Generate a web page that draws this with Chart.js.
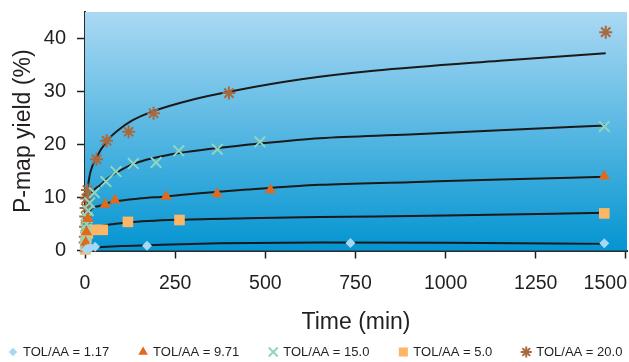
<!DOCTYPE html>
<html>
<head>
<meta charset="utf-8">
<script src="https://cdn.jsdelivr.net/npm/chart.js@4/dist/chart.umd.min.js"></script>
<style>
  html, body { margin: 0; padding: 0; background: #fff; }
  #wrap { width: 629px; height: 362px; }
</style>
</head>
<body>
<div id="wrap"><canvas id="yieldChart" width="629" height="362"></canvas></div>
<script>
// tick labels
const xTicks = [0, 250, 500, 750, 1000, 1250, 1500];
const yTicks = [0, 10, 20, 30, 40];

// measured points, time (min) / P-map yield (%)
const t117 = [2, 8, 15, 28, 172, 736, 1440];
const y117 = [0.2, 0.4, 0.5, 0.7, 0.9, 1.4, 1.35];

const t971 = [1, 2, 4, 8, 56, 83, 225, 366, 514, 1440];
const y971 = [0.4, 1.5, 3.5, 6, 8.7, 9.5, 10.2, 10.7, 11.4, 14.0];

const t150 = [0.5, 1, 2, 3, 4, 6, 9, 13, 26, 58, 86, 134, 197, 260, 367, 485, 1440];
const y150 = [0.5, 1.5, 2.8, 4, 5, 6.2, 7.5, 9, 10.9, 13.0, 14.9, 16.4, 16.6, 18.8, 19.1, 20.5, 23.4];

const t50 = [1, 2, 4, 8, 24, 49, 119, 262, 1440];
const y50 = [0.2, 1.2, 2.4, 3.2, 3.9, 3.9, 5.4, 5.75, 7.0];

const t200 = [0.5, 1, 1.5, 2, 3, 4, 7, 32, 60, 121, 190, 399, 1444];
const y200 = [1.5, 2.6, 4.5, 6.4, 8, 9.8, 11.4, 17.2, 20.7, 22.4, 25.9, 29.7, 41.2];

// fitted curves
const fitT200 = [2, 7, 15, 32, 60, 90, 130, 190, 300, 410, 600, 800, 1150, 1444];
const fitY200 = [9.5, 11.7, 14.8, 17.6, 20.6, 22.6, 24.5, 26.3, 28.5, 30.1, 32.3, 33.9, 35.8, 37.2];

const fitT150 = [5, 17, 40, 67, 90, 132, 200, 262, 350, 485, 651, 900, 1151, 1444];
const fitY150 = [8.5, 10.8, 12.2, 13.8, 14.8, 16.3, 17.6, 18.4, 19.2, 20.2, 21.2, 21.9, 22.7, 23.6];

const fitT971 = [5, 17, 40, 60, 86, 150, 225, 318, 450, 651, 900, 1151, 1444];
const fitY971 = [6.3, 7.8, 8.4, 8.9, 9.3, 9.8, 10.2, 10.8, 11.5, 12.4, 12.9, 13.4, 13.9];

const fitT50 = [8, 17, 40, 80, 119, 262, 450, 651, 1000, 1444];
const fitY50 = [3.4, 3.9, 4.5, 5.0, 5.3, 5.8, 6.1, 6.3, 6.6, 7.1];

const fitT117 = [12, 21, 40, 100, 172, 373, 651, 1000, 1444];
const fitY117 = [0.3, 0.4, 0.6, 0.85, 1.0, 1.35, 1.5, 1.45, 1.25];

const FONT = '"Liberation Sans", Arial, sans-serif';
const pts = (xs, ys) => xs.map((x, i) => ({ x: x, y: ys[i] }));

function markers(label, xs, ys, style, color, radius, lineW) {
    return {
        label: label,
        data: pts(xs, ys),
        pointStyle: style,
        pointRadius: radius,
        pointHoverRadius: radius,
        backgroundColor: color,
        borderColor: color,
        borderWidth: lineW,
        showLine: false,
        clip: false
    };
}

function curve(xs, ys) {
    return {
        label: 'fit',
        data: pts(xs, ys),
        showLine: true,
        borderColor: '#1a1a1a',
        borderWidth: 2,
        pointRadius: 0,
        cubicInterpolationMode: 'monotone',
        fill: false
    };
}

const plotBackground = {
    id: 'plotBackground',
    beforeDatasetsDraw(chart) {
        const { ctx, chartArea: a } = chart;
        const g = ctx.createLinearGradient(0, a.top, 0, a.bottom);
        g.addColorStop(0, '#aad9f3');
        g.addColorStop(1, '#0495d2');
        ctx.save();
        ctx.fillStyle = g;
        ctx.fillRect(a.left, a.top, a.right - a.left, a.bottom - a.top);
        ctx.restore();
    }
};

// last x label sits flush with the right edge instead of being cut off
const lastLabelInside = {
    id: 'lastLabelInside',
    beforeDraw(chart) {
        const items = chart.scales.x.getLabelItems();
        const last = items[items.length - 1];
        if (!last) return;
        last.options.textAlign = 'right';
        last.options.translation = [chart.width - 2, last.options.translation[1]];
    }
};

// one row legend along the bottom, wider gaps than the built-in one allows
const bottomLegend = {
    id: 'bottomLegend',
    afterDraw(chart) {
        const ctx = chart.ctx;
        const y = 352;
        let x = 8;
        ctx.save();
        ctx.font = '13px ' + FONT;
        ctx.textBaseline = 'middle';
        chart.data.datasets.forEach(ds => {
            if (ds.showLine) return;
            ctx.fillStyle = ds.backgroundColor;
            ctx.strokeStyle = ds.borderColor;
            ctx.lineWidth = ds.borderWidth;
            Chart.helpers.drawPoint(ctx, {
                pointStyle: ds.pointStyle,
                radius: ds.pointRadius * 0.85,
                borderWidth: ds.borderWidth,
                rotation: 0
            }, x + 5, y);
            ctx.fillStyle = '#231f20';
            ctx.fillText(ds.label, x + 15, y);
            x += 15 + ctx.measureText(ds.label).width + 29;
        });
        ctx.restore();
    }
};

const ctx = document.getElementById('yieldChart');
new Chart(ctx, {
    type: 'scatter',
    data: {
        datasets: [
            markers('TOL/AA = 1.17', t117, y117, 'rectRot', '#a6d8f4', 5, 0),
            markers('TOL/AA = 9.71', t971, y971, 'triangle', '#e0691c', 6.5, 0),
            markers('TOL/AA = 15.0', t150, y150, 'crossRot', '#8fd5bf', 7.5, 2),
            markers('TOL/AA = 5.0', t50, y50, 'rect', '#fdb665', 7.5, 0),
            markers('TOL/AA = 20.0', t200, y200, 'star', '#a9693f', 6.5, 2),
            curve(fitT200, fitY200),
            curve(fitT150, fitY150),
            curve(fitT971, fitY971),
            curve(fitT50, fitY50),
            curve(fitT117, fitY117)
        ]
    },
    options: {
        responsive: false,
        animation: false,
        layout: {
            autoPadding: false,
            padding: { top: 12, right: 2, left: 0, bottom: 0 }
        },
        plugins: {
            tooltip: { enabled: false },
            legend: { display: false }
        },
        scales: {
            x: {
                type: 'linear',
                min: 0,
                max: 1503,
                afterBuildTicks: (scale) => { scale.ticks = xTicks.map(v => ({ value: v })); },
                afterFit: (scale) => { scale.height = 111.5; scale.paddingLeft = 0; scale.paddingRight = 0; },
                grid: { drawOnChartArea: false, drawTicks: true, tickLength: 8, tickWidth: 1.5, tickColor: '#231f20' },
                border: { color: '#2a2a2a', width: 2 },
                ticks: {
                    color: '#231f20',
                    padding: 13,
                    maxRotation: 0,
                    autoSkip: false,
                    callback: (v) => String(v),
                    font: { family: FONT, size: 19.5 }
                },
                title: {
                    display: true,
                    text: 'Time (min)',
                    color: '#231f20',
                    padding: { top: 0, bottom: 26 },
                    font: { family: FONT, size: 23 }
                }
            },
            y: {
                min: 0,
                max: 45,
                afterBuildTicks: (scale) => { scale.ticks = yTicks.map(v => ({ value: v })); },
                afterFit: (scale) => { scale.width = 85; scale.paddingTop = 0; scale.paddingBottom = 0; },
                grid: { drawOnChartArea: false, drawTicks: true, tickLength: 8, tickWidth: 1.5, tickColor: '#231f20' },
                border: { color: '#2a2a2a', width: 2 },
                ticks: {
                    color: '#231f20',
                    padding: 11,
                    font: { family: FONT, size: 20 }
                },
                title: {
                    display: true,
                    text: 'P-map yield (%)',
                    color: '#231f20',
                    padding: { top: 10, bottom: 0 },
                    font: { family: FONT, size: 23 }
                }
            }
        }
    },
    plugins: [plotBackground, lastLabelInside, bottomLegend]
});
</script>
</body>
</html>
